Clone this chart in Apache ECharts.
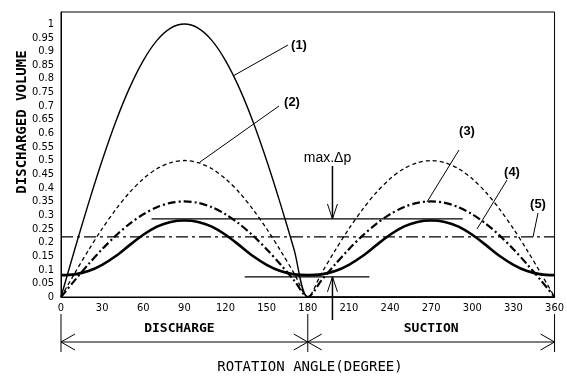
<!DOCTYPE html>
<html>
<head>
<meta charset="utf-8">
<script src="https://cdn.jsdelivr.net/npm/echarts@6/dist/echarts.min.js"></script>
<style>
  html, body { margin: 0; padding: 0; background: #fff; }
  #chart { width: 567px; height: 380px; }
</style>
</head>
<body>
<div id="chart"></div>
<script>
// rotation angle, every 10 degrees
const angles = [0, 10, 20, 30, 40, 50, 60, 70, 80, 90, 100, 110, 120, 130, 140, 150, 160, 170, 180,
  190, 200, 210, 220, 230, 240, 250, 260, 270, 280, 290, 300, 310, 320, 330, 340, 350, 360];

// (1) thin solid
const curve1 = [0, 0.174, 0.342, 0.5, 0.643, 0.766, 0.866, 0.94, 0.985, 1, 0.985, 0.94, 0.866, 0.766, 0.643, 0.5, 0.342, 0.174, 0,
  0, 0, 0, 0, 0, 0, 0, 0, 0, 0, 0, 0, 0, 0, 0, 0, 0, 0];
// (2) short dashes
const curve2 = [0, 0.087, 0.171, 0.25, 0.321, 0.383, 0.433, 0.47, 0.492, 0.5, 0.492, 0.47, 0.433, 0.383, 0.321, 0.25, 0.171, 0.087, 0,
  0.087, 0.171, 0.25, 0.321, 0.383, 0.433, 0.47, 0.492, 0.5, 0.492, 0.47, 0.433, 0.383, 0.321, 0.25, 0.171, 0.087, 0];
// (3) dash-dot, bold
const curve3 = [0, 0.061, 0.12, 0.175, 0.225, 0.268, 0.303, 0.329, 0.345, 0.35, 0.345, 0.329, 0.303, 0.268, 0.225, 0.175, 0.12, 0.061, 0,
  0.061, 0.12, 0.175, 0.225, 0.268, 0.303, 0.329, 0.345, 0.35, 0.345, 0.329, 0.303, 0.268, 0.225, 0.175, 0.12, 0.061, 0];
// (4) thick solid
const curve4 = [0.08, 0.083, 0.095, 0.118, 0.15, 0.19, 0.228, 0.258, 0.275, 0.28, 0.275, 0.258, 0.228, 0.19, 0.15, 0.118, 0.095, 0.083, 0.08,
  0.083, 0.095, 0.118, 0.15, 0.19, 0.228, 0.258, 0.275, 0.28, 0.275, 0.258, 0.228, 0.19, 0.15, 0.118, 0.095, 0.083, 0.08];
// (5) mean line
const meanLevel = 0.22;
// max. delta p guide lines
const upperGuide = [[66, 0.286], [293, 0.286]];
const lowerGuide = [[134, 0.074], [225, 0.074]];

const pairs = (ys) => angles.map((a, i) => [a, ys[i]]);

const chart = echarts.init(document.getElementById('chart'));
const mono = 'DejaVu Sans Mono';
const cond = 'DejaVu Sans Condensed';

chart.setOption({
  animation: false,
  grid: {
    left: 61, right: 11, top: 12, bottom: 83,
    show: true, borderColor: '#000', borderWidth: 1
  },
  xAxis: {
    type: 'value', min: 0, max: 360, interval: 30,
    axisLine: { show: true, lineStyle: { color: '#000' } },
    axisTick: { show: false },
    splitLine: { show: false },
    axisLabel: { color: '#000', fontFamily: cond, fontSize: 11, margin: 6 }
  },
  yAxis: {
    type: 'value', min: 0, max: 1.044, interval: 0.05,
    axisLine: { show: true, lineStyle: { color: '#000' } },
    axisTick: { show: false },
    splitLine: { show: false },
    axisLabel: {
      color: '#000', fontFamily: cond, fontSize: 11, margin: 7,
      formatter: (v) => (v > 1.001 ? '' : String(+v.toFixed(2)))
    }
  },
  series: [
    { type: 'line', data: pairs(curve1), smooth: 0.3, symbol: 'none',
      lineStyle: { color: '#000', width: 1.4 } },
    { type: 'line', data: pairs(curve2), smooth: 0.3, symbol: 'none',
      lineStyle: { color: '#000', width: 1.3, type: [4, 3] } },
    { type: 'line', data: pairs(curve3), smooth: 0.3, symbol: 'none',
      lineStyle: { color: '#000', width: 2.2, type: [8, 3, 2, 3] } },
    { type: 'line', data: pairs(curve4), smooth: 0.3, symbol: 'none',
      lineStyle: { color: '#000', width: 2.6 } },
    { type: 'line', data: [[0, meanLevel], [360, meanLevel]], symbol: 'none',
      lineStyle: { color: '#000', width: 1.3, type: [12, 4, 3, 4] } },
    { type: 'line', data: upperGuide, symbol: 'none', lineStyle: { color: '#000', width: 1.3 } },
    { type: 'line', data: lowerGuide, symbol: 'none', lineStyle: { color: '#000', width: 1.3 } }
  ]
});

// annotations
const px = (x, y) => chart.convertToPixel({ gridIndex: 0 }, [x, y]);
const g = [];
const line = (x1, y1, x2, y2, w) => g.push({
  type: 'line', shape: { x1, y1, x2, y2 }, style: { stroke: '#000', lineWidth: w || 1 }
});
const txt = (t, x, y, font, extra) => g.push(Object.assign({
  type: 'text', x, y,
  style: { text: t, font, fill: '#000', align: 'center', verticalAlign: 'middle' }
}, extra || {}));
const head = (x, y, dx, dy, len, half) => {
  // open arrow head at (x,y) pointing along (dx,dy)
  const nx = -dy, ny = dx;
  line(x, y, x - dx * len + nx * half, y - dy * len + ny * half);
  line(x, y, x - dx * len - nx * half, y - dy * len - ny * half);
};

const lbl = 'bold 13px Liberation Sans';
// leader lines and numbers
line(233, 76, 288, 45); txt('(1)', 299, 45, lbl);
line(200, 162, 279, 106); txt('(2)', 292, 102, lbl);
line(427, 202, 459, 150); txt('(3)', 467, 131, lbl);
line(477, 229, 507, 180); txt('(4)', 512, 172, lbl);
line(533, 237, 538, 213); txt('(5)', 538, 204, lbl);

// max. delta p arrows
const ax = px(198, 0)[0];
const yUp = px(0, upperGuide[0][1])[1];
const yLo = px(0, lowerGuide[0][1])[1];
txt('max.\u0394p', ax - 5, 158, '14px Liberation Sans');
line(ax, 166, ax, yUp, 1.5); head(ax, yUp, 0, 1, 15, 5);
line(ax, 320, ax, yLo, 1.5); head(ax, yLo, 0, -1, 15, 5);

// dimension lines under the axis
const x0 = px(0, 0)[0], x180 = px(180, 0)[0], x360 = px(360, 0)[0];
[x0, x180, x360].forEach((x) => line(x, 314, x, 352));
line(x0, 342, x360, 342);
head(x0, 342, -1, 0, 14, 8); head(x180, 342, 1, 0, 14, 8);
head(x180, 342, -1, 0, 14, 8); head(x360, 342, 1, 0, 14, 8);
txt('DISCHARGE', (x0 + x180) / 2 - 5, 329, 'bold 13px ' + mono);
txt('SUCTION', (x180 + x360) / 2 + 0, 329, 'bold 13px ' + mono);
txt('ROTATION ANGLE(DEGREE)', 310, 367, '14px ' + mono);
txt('DISCHARGED VOLUME', 22, 122, 'bold 14px ' + mono, { rotation: Math.PI / 2 });

chart.setOption({ graphic: g });
</script>
</body>
</html>
